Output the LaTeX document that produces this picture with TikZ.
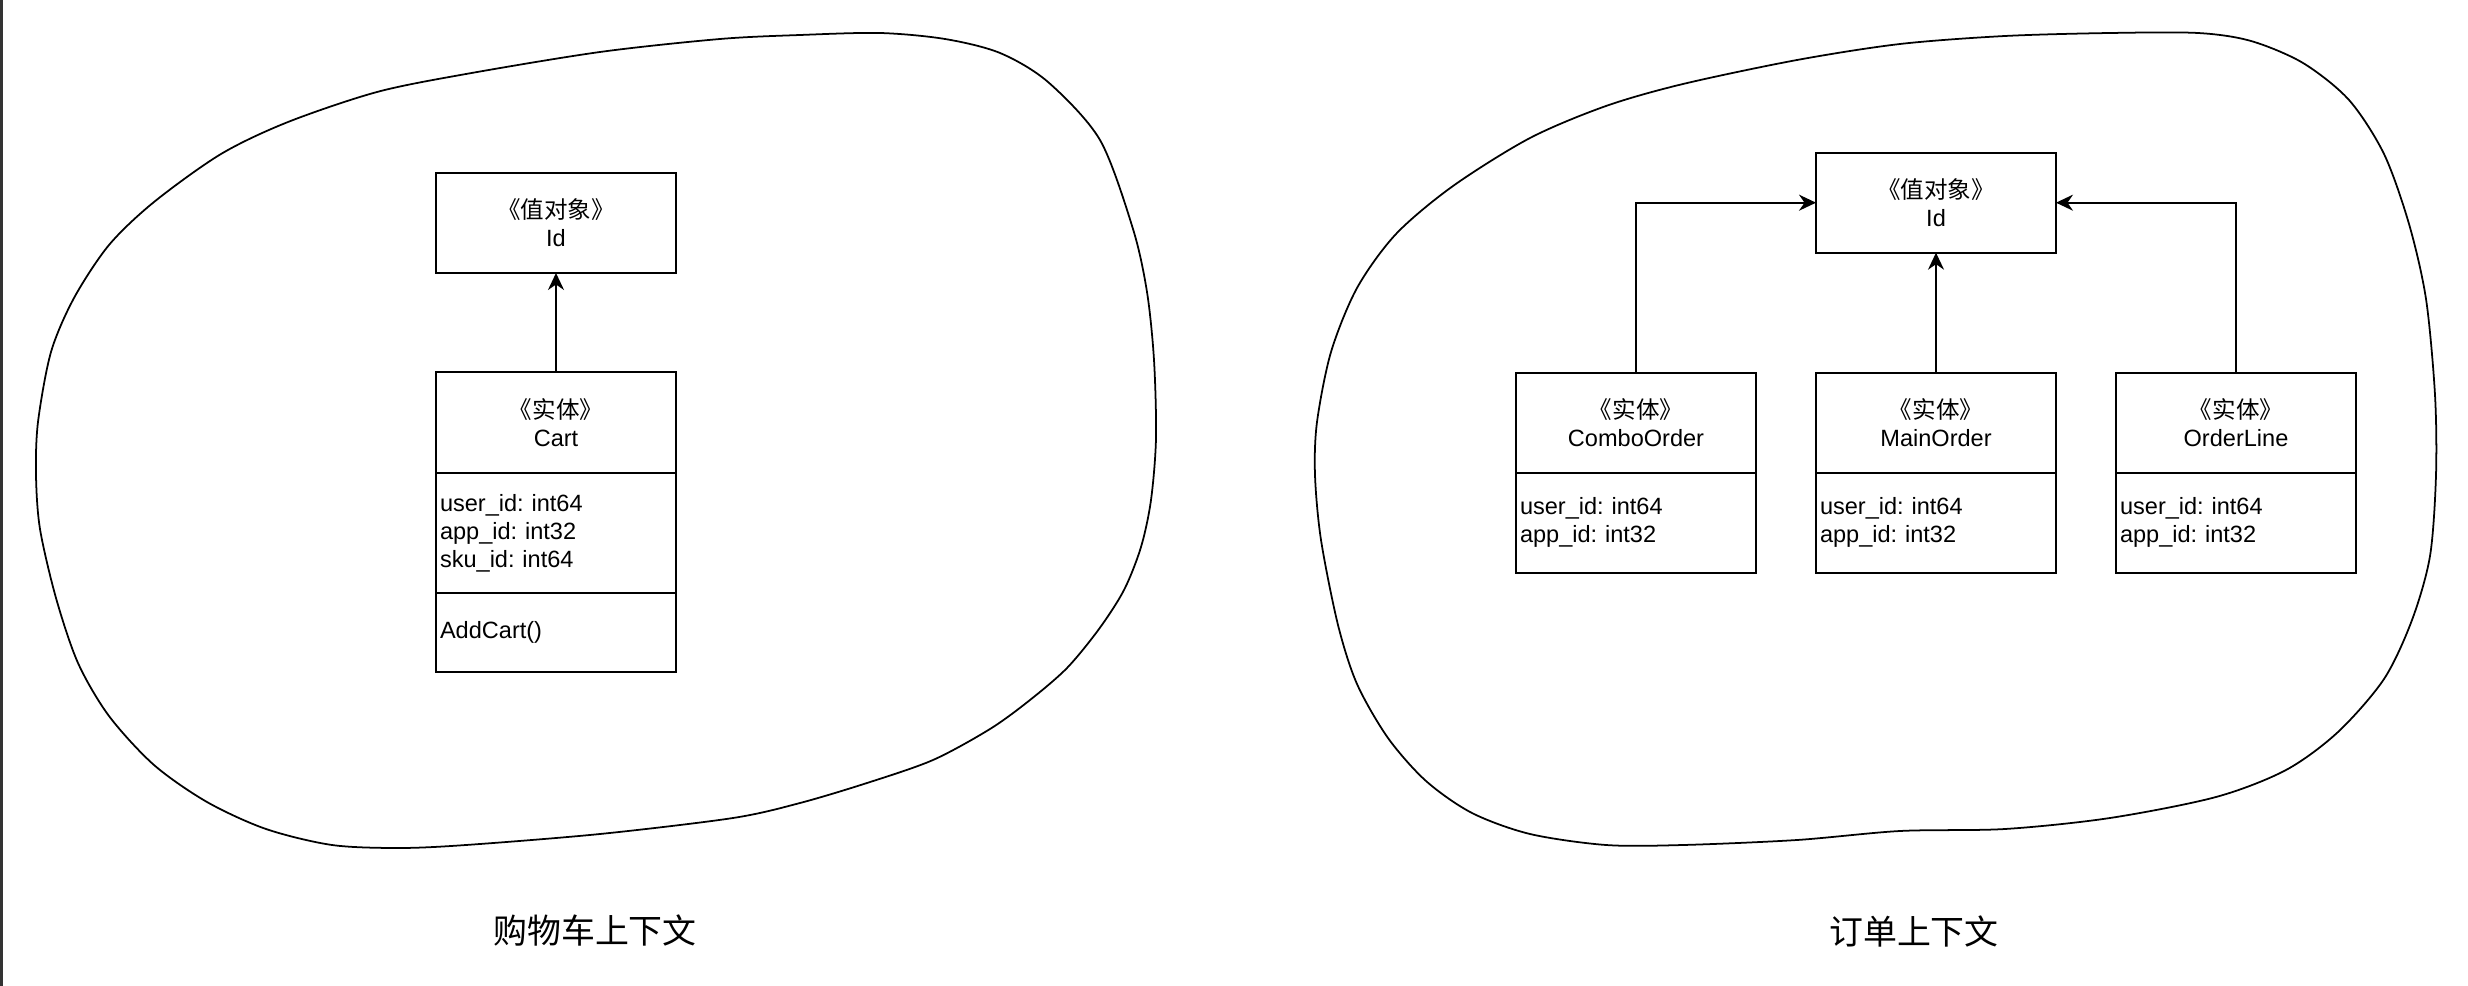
\documentclass[tikz,border=0pt]{standalone}
\usepackage{fontspec}
\setmainfont{Liberation Sans}
\newfontfamily\cjk{Noto Sans CJK SC}
\usetikzlibrary{arrows.meta,positioning}
\frenchspacing
\definecolor{ink}{RGB}{0,0,0}
\definecolor{rim}{RGB}{51,51,51}
\tikzset{
  >={Stealth[length=3.4mm,width=3.2mm]},
  umlpart/.style={draw=ink,line width=1.1pt,minimum width=4.8cm,inner sep=0pt,outer sep=0pt,
    font=\fontsize{13.4}{15.9}\selectfont},
  head/.style={umlpart,minimum height=#1,align=center},
  head/.default=2cm,
  attrs/.style={umlpart,minimum height=#1,text width=4.64cm,align=left},
  attrs/.default=2cm,
  link/.style={->,line width=1.1pt,draw=ink},
  blob/.style={draw=ink,line width=1pt},
  caption/.style={font=\cjk\fontsize{19.3}{23}\selectfont},
}

\begin{document}
\begin{tikzpicture}[x=0.02cm,y=-0.02cm]
  \useasboundingbox (0,0) rectangle (2468,986);
  \fill[rim] (0,0) rectangle (3,986);
  % cart context
  \draw[blob] plot[smooth cycle,tension=0.5] coordinates {
    (880,33) (945,39) (1000,53) (1048,82) (1100,140) (1133,229) (1147,292) (1154,360)
    (1156,438) (1151,500) (1141,547) (1124,590) (1099,629) (1067,668) (1030,700)
    (990,729) (933,760) (867,783) (800,803) (733,818) (600,834) (466,845) (399,848)
    (332,845) (266,829) (207,802) (154,765) (109,716) (78,663) (56,598) (40,529)
    (36,475) (38,422) (51,352) (74,298) (109,245) (154,202) (221,154) (288,122)
    (377,92) (466,74) (600,52) (720,39) (800,35)};
  \node[head] (leftId) at (556,223) {{\cjk 《值对象》}\\Id};
  \node[head=2.02cm] (cart) at (556,422.5) {{\cjk 《实体》}\\Cart};
  \node[attrs=2.4cm,below=0pt of cart] (cart-attr) {user\_id: int64\\app\_id: int32\\sku\_id: int64};
  \node[attrs=1.58cm,below=0pt of cart-attr] (cart-ops) {AddCart()};
  \draw[link] (cart) -- (leftId);
  \node[caption] (cartCap) at (595,931) {购物车上下文};
  % order context
  \draw[blob] plot[smooth cycle,tension=0.5] coordinates {
    (2005,36) (2110,33) (2198,33) (2251,41) (2303,63) (2349,100) (2384,154) (2409,224)
    (2426,299) (2435,395) (2436,475) (2430,556) (2412,620) (2384,679) (2338,732)
    (2286,770) (2216,797) (2110,818) (2005,829) (1900,831) (1797,840) (1683,845)
    (1606,845) (1530,834) (1472,813) (1426,781) (1388,738) (1357,684) (1338,625)
    (1321,540) (1315,475) (1317,422) (1331,352) (1357,288) (1396,234) (1453,186)
    (1530,138) (1606,106) (1683,84) (1797,60) (1900,44)};
  \node[head] (rightId) at (1936,202.7) {{\cjk 《值对象》}\\Id};
  \foreach \n/\x/\t in {combo/1636/ComboOrder,main/1936/MainOrder,line/2236/OrderLine}{
    \node[head] (\n) at (\x,422.7) {{\cjk 《实体》}\\\t};
    \node[attrs,below=0pt of \n] (\n-attr) {user\_id: int64\\app\_id: int32};
  }
  \draw[link] (combo) |- (rightId);
  \draw[link] (main) -- (rightId);
  \draw[link] (line) |- (rightId);
  \node[caption] (orderCap) at (1914,931) {订单上下文};
\end{tikzpicture}
\end{document}
